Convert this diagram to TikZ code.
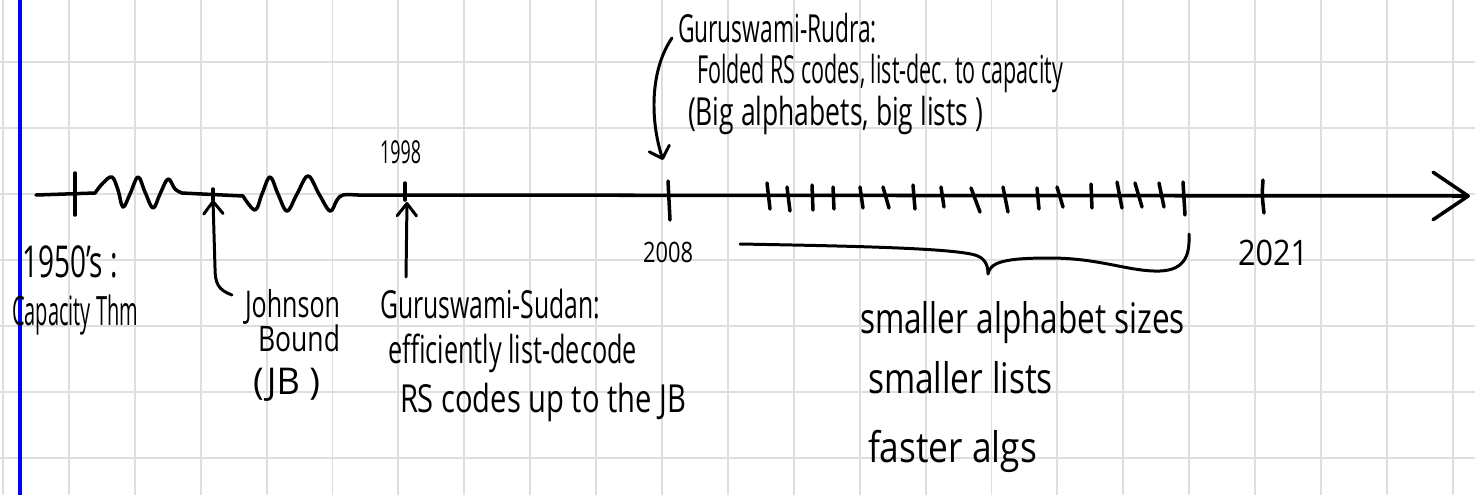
\documentclass[tikz,border=0pt]{standalone}
\usepackage{fontspec}
\setmainfont{Open Sans}
\usepackage{graphicx}
\usetikzlibrary{arrows.meta}

% one drawing unit = 0.02cm
\newlength\pxu
\setlength\pxu{0.02cm}
% handwritten line: width (in units), font size (pt), text
\newcommand\hw[3]{{\fontsize{#2}{#2}\selectfont\resizebox{#1\pxu}{\height}{#3}}}

\tikzset{
  gridline/.style={draw=black!13, line width=1.1pt},
  marginline/.style={draw=blue, line width=2pt},
  axisline/.style={line width=2pt, line cap=round, line join=round},
  tickmark/.style={line width=2pt, line cap=round},
  pointer/.style={line width=1.7pt, line cap=round,
    -{Straight Barb[round,length=7pt,width=11pt]}},
  bracestroke/.style={line width=1.7pt, line cap=round, line join=round},
  hand/.style={anchor=base west, inner sep=0pt, outer sep=0pt, text=black},
}

\begin{document}
\begin{tikzpicture}[x=0.02cm, y=-0.02cm]
\useasboundingbox (0,0) rectangle (1475,495);
\fill[white] (0,0) rectangle (1475,495);

% squared paper
\foreach \k in {0,...,22}
  \draw[gridline] ({3+65.9*\k},0) -- ({3+65.9*\k},495);
\foreach \k in {0,...,6}
  \draw[gridline] (0,{62.3+66*\k}) -- (1475,{62.3+66*\k});
\draw[marginline] (20,0) -- (20,495);

% time axis with the two wavy stretches
\draw[axisline, -{Straight Barb[round,length=20pt,width=27pt]}]
  (36,195) -- (95,193)
  -- plot[smooth, tension=0.6] coordinates {(95,193) (103,183) (112,177) (118,190) (123,207) (130,194) (138,177) (145,192) (153,208) (160,194) (168,179) (175,189) (182,193)}
  -- (243,196)
  -- plot[smooth, tension=0.6] coordinates {(243,196) (255,210) (262,194) (270,177) (278,194) (287,211) (297,194) (308,176) (319,194) (330,211) (337,200) (343,195) (358,195)}
  -- (1470,196);

% ticks
\coordinate (t1950) at (75,195);
\coordinate (tJB) at (213,200);
\coordinate (t1998) at (407,202);
\coordinate (t2008) at (663,160);
\draw[tickmark] (75,173) -- (75,215);
\draw[tickmark] (213,189) -- (213,200);
\draw[tickmark] (405,183) -- (405,200);
\draw[tickmark] (668,181) -- (670,220);
\foreach \a/\b/\c/\d in {767/183/770/209, 787/187/790/211, 812/185/813/210,
    833/187/834/209, 860/187/863/208, 883/187/889/208, 913/185/915/209,
    941/187/944/207, 971/188/980/212, 1003/187/1008/212, 1037/188/1039/209,
    1057/187/1063/207, 1091/184/1092/208, 1117/182/1122/208, 1135/183/1142/207,
    1159/183/1164/207, 1183/182/1185/215}
  \draw[tickmark] (\a,\b) -- (\c,\d);
\draw[tickmark] (1263,180) .. controls (1262,195) .. (1264,213);

% year labels
\node[hand] (y1998) at (380,163) {\hw{41}{18}{1998}};
\node[hand] (y2008) at (643,262) {\hw{50}{16}{2008}};
\node[hand] (y2021) at (1238,265) {\hw{70}{20}{2021}};

% capacity theorem
\node[hand] (y1950) at (22,277) {\hw{96}{25}{1950’s :}};
\node[hand] (capthm) at (12,325) {\hw{126}{23}{Capacity Thm}};

% Johnson bound
\node[hand] (jb1) at (245,317) {\hw{95}{21}{Johnson}};
\node[hand] (jb2) at (258,351) {\hw{82}{20}{Bound}};
\node[hand] (jb3) at (253,394) {\hw{67}{21}{(JB )}};
\coordinate (jbfoot) at (232,295);
\draw[pointer] (jbfoot) .. controls (218,290) and (215,283) .. (215,268) -- (tJB);

% Guruswami-Sudan
\node[hand] (gs1) at (380,318) {\hw{220}{22}{Guruswami-Sudan:}};
\node[hand] (gs2) at (388,363) {\hw{249}{22}{efficiently list-decode}};
\node[hand] (gs3) at (400,412) {\hw{286}{22}{RS codes up to the JB}};
\coordinate (gsfoot) at (406,277);
\draw[pointer] (gsfoot) -- (t1998);

% Guruswami-Rudra
\node[hand] (gr1) at (678,42) {\hw{199}{22}{Guruswami-Rudra:}};
\node[hand] (gr2) at (697,83) {\hw{366}{22}{Folded RS codes, list-dec. to capacity}};
\node[hand] (gr3) at (688,125) {\hw{295}{22}{(Big alphabets, big lists )}};
\coordinate (grstart) at (672,38);
\draw[pointer, -{Straight Barb[round,length=6pt,width=12pt]}]
  (grstart) .. controls (650,70) and (650,120) .. (t2008);

% brace over the recent results
\draw[bracestroke] (740,244) .. controls (850,246) and (950,248) .. (975,255)
  .. controls (985,258) and (988,265) .. (988,274)
  .. controls (990,262) and (1005,258) .. (1050,258)
  .. controls (1100,258) and (1130,272) .. (1160,271)
  .. controls (1185,270) and (1190,255) .. (1189,234);

\node[hand] (imp1) at (860,333) {\hw{325}{24}{smaller alphabet sizes}};
\node[hand] (imp2) at (868,393) {\hw{185}{24}{smaller lists}};
\node[hand] (imp3) at (868,462) {\hw{169}{24}{faster algs}};
\end{tikzpicture}
\end{document}
